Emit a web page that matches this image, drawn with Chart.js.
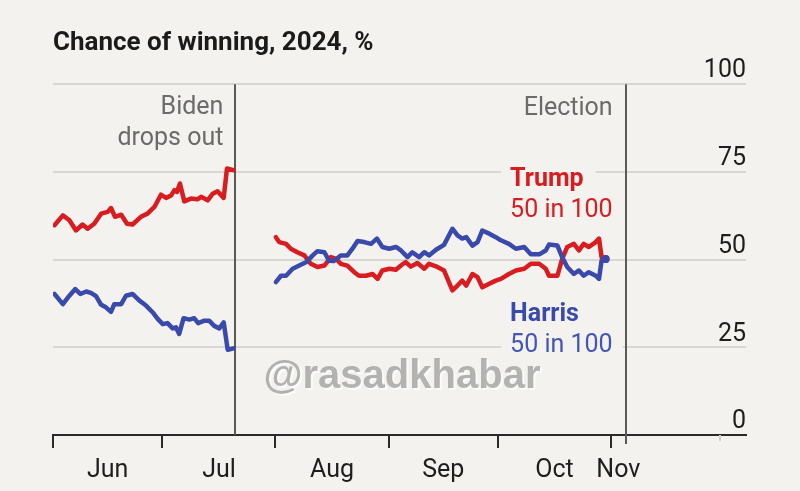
<!DOCTYPE html>
<html>
<head>
<meta charset="utf-8">
<title>Chance of winning, 2024</title>
<script src="https://cdn.jsdelivr.net/npm/chart.js@4.4.1/dist/chart.umd.min.js"></script>
<style>
    html, body { margin: 0; padding: 0; background: #f3f2ee; }
    #chart-container { width: 800px; height: 491px; position: relative; }
</style>
</head>
<body>
<div id="chart-container"><canvas id="odds-chart"></canvas></div>
<script>
// Days are counted from 1 June 2024 (day 0)

// Before Biden drops out
const trumpPreDays = [0.4, 2.7, 4.5, 6.3, 8.1, 9.5, 11.3, 13.2, 15, 15.9, 17, 18.7, 20.3, 21.8, 24.1, 25.9, 27.8, 29.6, 31, 32.4, 33.3, 34, 34.8, 36, 37.8, 39.6, 40.6, 42.4, 43.8, 45.1, 46.8, 47.7, 49.5];
const trumpPre = [59.8, 62.6, 61.2, 58.3, 60.0, 58.8, 60.2, 63.1, 63.6, 64.7, 62.2, 62.8, 60.2, 60.0, 62.2, 63.1, 65.0, 68.5, 67.6, 68.3, 69.8, 69.3, 71.7, 66.6, 67.4, 67.2, 67.9, 66.9, 68.8, 69.5, 67.6, 76.0, 75.5];

const bidenDays = [0.4, 2.7, 4.5, 6.1, 7.5, 9.1, 10.4, 11.8, 13.2, 14.5, 15.9, 16.8, 18.7, 20.0, 21.8, 23.7, 25.5, 27.3, 28.7, 30.1, 31.4, 32.8, 33.7, 34.6, 35.8, 37.4, 38.7, 39.8, 41.5, 42.8, 44.2, 45.6, 46.8, 47.9, 49.5];
const biden = [40.2, 37.3, 39.7, 41.6, 40.2, 40.9, 40.5, 39.6, 37.1, 36.4, 35.1, 37.3, 37.3, 39.7, 40.2, 38.3, 36.9, 35.0, 33.1, 31.6, 31.9, 30.4, 30.7, 28.8, 33.3, 32.9, 33.3, 31.9, 32.6, 32.6, 31.1, 30.4, 32.1, 24.3, 24.7];

// Harris v Trump, from August
const trumpPostDays = [61.1, 62.0, 63.9, 65.2, 67.0, 68.9, 70.7, 72.5, 74.4, 76.2, 77.6, 78.9, 80.7, 82.6, 83.9, 85.8, 87.6, 89.0, 90.3, 92.2, 94.0, 95.4, 96.7, 98.1, 99.9, 101.8, 103.1, 105.0, 107.2, 109.5, 110.9, 112.2, 113.3, 115.0, 116.4, 117.7, 119.6, 121.4, 122.8, 125.0, 126.9, 129.2, 131.0, 133.3, 135.1, 136.0, 138.3, 139.6, 141.0, 142.8, 144.2, 145.5, 146.9, 148.8, 149.7, 150.4, 151.5];
const trumpPost = [56.4, 55.0, 54.5, 53.1, 52.1, 51.2, 48.8, 47.9, 48.3, 50.7, 50.2, 48.8, 48.3, 46.4, 45.4, 45.4, 45.9, 44.5, 46.9, 47.4, 47.1, 48.3, 49.3, 48.0, 49.0, 47.4, 48.8, 48.1, 46.9, 41.2, 42.6, 44.0, 42.6, 45.9, 45.0, 42.1, 43.1, 44.0, 44.5, 45.9, 46.9, 47.4, 48.8, 48.8, 47.4, 45.4, 45.4, 50.2, 53.6, 54.5, 52.6, 54.5, 53.6, 55.0, 56.0, 50.7, 50.2];

const harrisDays = [61.1, 62.5, 63.9, 65.7, 67.5, 69.5, 71.2, 72.5, 74.4, 75.7, 77.0, 78.9, 80.7, 82.1, 83.5, 85.3, 87.2, 88.8, 90.3, 92.2, 94.0, 95.4, 97.2, 98.5, 100.4, 101.8, 103.1, 105.0, 107.2, 109.5, 110.9, 112.2, 113.3, 115.0, 116.4, 117.7, 119.6, 121.4, 122.8, 125.0, 126.9, 129.2, 131.0, 133.3, 135.1, 136.0, 138.3, 139.6, 141.0, 142.8, 144.2, 145.5, 146.9, 148.8, 149.7, 150.4, 151.5];
const harris = [43.6, 45.4, 45.4, 47.4, 48.3, 49.3, 51.2, 52.4, 52.1, 49.7, 49.6, 51.2, 51.2, 53.1, 55.3, 55.0, 54.5, 56.0, 53.6, 53.1, 53.6, 52.6, 50.7, 52.1, 50.7, 52.1, 51.2, 52.8, 54.2, 58.8, 56.9, 56.0, 56.4, 54.0, 55.0, 58.3, 57.4, 56.4, 55.5, 54.5, 53.1, 53.6, 51.5, 51.5, 52.6, 54.3, 54.0, 50.7, 47.9, 45.9, 46.9, 45.4, 46.4, 45.4, 44.5, 49.7, 50.2];

// Axis ticks and events
const monthNames = ['Jun', 'Jul', 'Aug', 'Sep', 'Oct', 'Nov'];
const monthLabelDays = [15, 45.5, 76.5, 107, 137.5, 155];
const monthStartDays = [0, 30, 61, 92, 122, 153];
const decStartDay = 183;
const bidenOutDay = 50;
const electionDay = 157;
const lastDay = 190;

const FONT = "Roboto, 'DejaVu Sans Condensed', sans-serif";
const RED = '#d81c1f';
const BLUE = '#3a4aab';
const BG = '#f3f2ee';

function toPoints(days, values) {
    return days.map((d, i) => ({ x: d, y: values[i] }));
}

// Draw a text line, optionally with a background patch to break the gridline
function drawText(ctx, text, px, py, font, color, align, patch) {
    ctx.font = font;
    ctx.textAlign = align;
    ctx.textBaseline = 'middle';
    if (patch) {
        const w = ctx.measureText(text).width;
        const left = align === 'left' ? px : px - w;
        ctx.fillStyle = BG;
        ctx.fillRect(left - patch[0], py - 14, w + patch[0] + patch[1], 26);
    }
    ctx.fillStyle = color;
    ctx.fillText(text, px, py);
}

const annotationsPlugin = {
    id: 'annotations',
    beforeDatasetsDraw(chart) {
        const { ctx, chartArea, scales: { x } } = chart;
        ctx.save();
        ctx.strokeStyle = '#5a5a5a';
        ctx.lineWidth = 2;
        [bidenOutDay, electionDay].forEach(d => {
            const px = Math.round(x.getPixelForValue(d));
            ctx.beginPath();
            ctx.moveTo(px, chartArea.top);
            ctx.lineTo(px, chartArea.bottom + (d === electionDay ? 9 : 0));
            ctx.stroke();
        });
        ctx.restore();
    },
    afterDatasetsDraw(chart) {
        const { ctx, chartArea, scales: { x, y } } = chart;
        const reg = '25px ' + FONT;
        const bold = 'bold 25px ' + FONT;
        const bidenX = x.getPixelForValue(bidenOutDay) - 12;
        const electX = x.getPixelForValue(electionDay) - 13;
        ctx.save();
        drawText(ctx, 'Biden', bidenX, chartArea.top + 24, reg, '#6b6b6b', 'right');
        drawText(ctx, 'drops out', bidenX, chartArea.top + 55, reg, '#6b6b6b', 'right');
        drawText(ctx, 'Election', electX, chartArea.top + 25, reg, '#6b6b6b', 'right');

        ctx.font = reg;
        const blockLeft = electX - ctx.measureText('50 in 100').width;
        drawText(ctx, 'Trump', blockLeft, y.getPixelForValue(72.8), bold, RED, 'left', [9, 12]);
        drawText(ctx, '50 in 100', blockLeft, y.getPixelForValue(64.0), reg, RED, 'left');
        drawText(ctx, 'Harris', blockLeft, y.getPixelForValue(34.4), bold, BLUE, 'left');
        drawText(ctx, '50 in 100', blockLeft, y.getPixelForValue(25.5), reg, '#4456b4', 'left', [9, 10]);
        ctx.restore();
    },
    afterDraw(chart) {
        const { ctx, chartArea, scales: { x } } = chart;
        ctx.save();
        // month tick marks below the axis
        ctx.strokeStyle = '#2a2a2a';
        ctx.lineWidth = 2;
        monthStartDays.forEach(d => {
            const px = Math.round(x.getPixelForValue(d));
            ctx.beginPath();
            ctx.moveTo(px, chartArea.bottom);
            ctx.lineTo(px, chartArea.bottom + 13);
            ctx.stroke();
        });
        ctx.strokeStyle = '#cfcfcc';
        const dx = Math.round(x.getPixelForValue(decStartDay));
        ctx.beginPath();
        ctx.moveTo(dx, chartArea.bottom);
        ctx.lineTo(dx, chartArea.bottom + 6);
        ctx.stroke();

        // watermark
        ctx.font = "bold 40px 'Liberation Sans', Arial, sans-serif";
        ctx.textAlign = 'center';
        ctx.textBaseline = 'alphabetic';
        ctx.shadowColor = 'rgba(255,255,255,0.9)';
        ctx.shadowOffsetX = 2;
        ctx.shadowOffsetY = 2;
        ctx.fillStyle = 'rgba(155,155,153,0.75)';
        ctx.fillText('@rasadkhabar', 402, 388);
        ctx.restore();
    }
};

const lineStyle = {
    borderWidth: 4.5,
    tension: 0,
    pointRadius: 0,
    borderJoinStyle: 'round',
    borderCapStyle: 'round'
};

function endDot(points) {
    return ctx => (ctx.dataIndex === points.length - 1 ? 4 : 0);
}

const harrisPoints = toPoints(harrisDays, harris);
const trumpPostPoints = toPoints(trumpPostDays, trumpPost);

const ctx = document.getElementById('odds-chart').getContext('2d');
const oddsChart = new Chart(ctx, {
    type: 'line',
    data: {
        datasets: [
            { label: 'Trump', data: toPoints(trumpPreDays, trumpPre), borderColor: RED, ...lineStyle },
            { label: 'Biden', data: toPoints(bidenDays, biden), borderColor: BLUE, ...lineStyle },
            { label: 'Harris', data: harrisPoints, borderColor: BLUE, backgroundColor: BLUE, ...lineStyle, pointRadius: endDot(harrisPoints), pointBorderWidth: 0 },
            { label: 'Trump', data: trumpPostPoints, borderColor: RED, backgroundColor: RED, ...lineStyle, pointRadius: endDot(trumpPostPoints), pointBorderWidth: 0 }
        ]
    },
    options: {
        responsive: true,
        maintainAspectRatio: false,
        animation: false,
        layout: {
            padding: { left: 53, right: 54, top: 0, bottom: -16 }
        },
        scales: {
            x: {
                type: 'linear',
                min: 0,
                max: lastDay,
                grid: { display: false, drawTicks: false },
                border: { display: true, color: '#2a2a2a', width: 2 },
                afterBuildTicks: axis => {
                    axis.ticks = monthLabelDays.map(v => ({ value: v }));
                },
                ticks: {
                    autoSkip: false,
                    maxRotation: 0,
                    padding: 21,
                    color: '#1e1e1e',
                    font: { family: FONT, size: 25 },
                    callback: (value, index) => monthNames[index]
                }
            },
            y: {
                position: 'right',
                min: 0,
                max: 100,
                grid: { color: '#d8d7d3', lineWidth: 2, drawTicks: false },
                border: { display: false },
                ticks: {
                    stepSize: 25,
                    mirror: true,
                    padding: 0,
                    labelOffset: -13,
                    color: '#1e1e1e',
                    font: { family: FONT, size: 25 }
                }
            }
        },
        plugins: {
            legend: { display: false },
            tooltip: { enabled: false },
            title: {
                display: true,
                text: 'Chance of winning, 2024, %',
                align: 'start',
                color: '#1b1b1b',
                font: { family: FONT, size: 26, weight: 'bold' },
                padding: { top: 28, bottom: 25 }
            }
        }
    },
    plugins: [annotationsPlugin]
});
</script>
</body>
</html>
